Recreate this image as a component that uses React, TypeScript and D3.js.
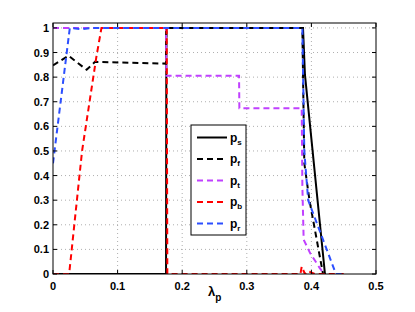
import React from "react";
import * as d3 from "d3";

// series: [lambda_p, value]
const psData: [number, number][] = [
  [0, 0], [0.175, 0], [0.1755, 1], [0.387, 1], [0.39, 0.81], [0.421, 0],
];
const pfData: [number, number][] = [
  [0, 0.848], [0.024, 0.887], [0.052, 0.83], [0.065, 0.862], [0.175, 0.855],
  [0.1755, 1], [0.386, 1], [0.389, 0.45], [0.397, 0.3], [0.418, 0],
];
const ptData: [number, number][] = [
  [0, 1], [0.175, 1], [0.1755, 0.806], [0.288, 0.806], [0.2885, 0.674],
  [0.385, 0.674], [0.386, 0.36], [0.388, 0.14], [0.398, 0.085], [0.413, 0.024], [0.42, 0],
];
const pbData: [number, number][] = [
  [0, 0], [0.025, 0], [0.045, 0.5], [0.067, 0.88], [0.075, 1], [0.176, 1],
  [0.177, 0], [0.383, 0], [0.385, 0.03], [0.39, 0], [0.395, 0.012], [0.405, 0], [0.45, 0],
];
const prData: [number, number][] = [
  [0, 0.45], [0.026, 1], [0.045, 0.995], [0.06, 1], [0.386, 1], [0.389, 0.5],
  [0.395, 0.3], [0.438, 0], [0.45, 0],
];

const xTicks = [0, 0.1, 0.2, 0.3, 0.4, 0.5];
const yTicks = [0, 0.1, 0.2, 0.3, 0.4, 0.5, 0.6, 0.7, 0.8, 0.9, 1];

const series = [
  { name: "s", data: psData, color: "#000000", dash: "" },
  { name: "f", data: pfData, color: "#000000", dash: "6,4" },
  { name: "t", data: ptData, color: "#c040ff", dash: "6,4" },
  { name: "b", data: pbData, color: "#ff0000", dash: "6,4" },
  { name: "r", data: prData, color: "#2c4fff", dash: "6,4" },
];

export default function App() {
  const width = 415;
  const height = 312;
  const m = { left: 53, right: 39, top: 23, bottom: 38 };

  const x = d3.scaleLinear().domain([0, 0.5]).range([m.left, width - m.right]);
  const y = d3.scaleLinear().domain([0, 1.02]).range([height - m.bottom, m.top]);
  const line = d3.line<[number, number]>().x((d) => x(d[0])).y((d) => y(d[1]));

  const font = "'Liberation Sans', Arial, sans-serif";
  const legX = 191;
  const legY = 125;

  return (
    <svg
      width={width}
      height={height}
      style={{ position: "absolute", left: 0, top: 0, background: "#fff" }}
      fontFamily={font}
    >
      <defs>
        <clipPath id="plot">
          <rect x={m.left} y={m.top} width={x(0.5) - m.left} height={y(0) - m.top} />
        </clipPath>
      </defs>

      {/* grid */}
      {xTicks.slice(1, -1).map((t) => (
        <line key={"gx" + t} x1={x(t)} x2={x(t)} y1={y(0)} y2={m.top}
          stroke="#999" strokeWidth={0.8} strokeDasharray="1,3" />
      ))}
      {yTicks.slice(1).map((t) => (
        <line key={"gy" + t} x1={m.left} x2={x(0.5)} y1={y(t)} y2={y(t)}
          stroke="#999" strokeWidth={0.8} strokeDasharray="1,3" />
      ))}

      {/* series */}
      <g clipPath="url(#plot)">
        {series.map((s) => (
          <path key={s.name} d={line(s.data) || ""} fill="none" stroke={s.color}
            strokeWidth={2} strokeDasharray={s.dash || undefined} />
        ))}
      </g>

      {/* box + ticks */}
      <rect x={m.left} y={m.top} width={x(0.5) - m.left} height={y(0) - m.top}
        fill="none" stroke="#000" strokeWidth={1} />
      {xTicks.map((t) => (
        <g key={"tx" + t}>
          <line x1={x(t)} x2={x(t)} y1={y(0)} y2={y(0) - 4} stroke="#000" />
          <line x1={x(t)} x2={x(t)} y1={m.top} y2={m.top + 4} stroke="#000" />
          <text x={x(t)} y={y(0) + 16} textAnchor="middle" fontSize={11} fontWeight="bold">
            {t === 0 ? "0" : d3.format(".1f")(t)}
          </text>
        </g>
      ))}
      {yTicks.map((t) => (
        <g key={"ty" + t}>
          <line x1={m.left} x2={m.left + 4} y1={y(t)} y2={y(t)} stroke="#000" />
          <line x1={x(0.5)} x2={x(0.5) - 4} y1={y(t)} y2={y(t)} stroke="#000" />
          <text x={m.left - 4} y={y(t) + 4} textAnchor="end" fontSize={11} fontWeight="bold">
            {t === 0 || t === 1 ? String(t) : d3.format(".1f")(t)}
          </text>
        </g>
      ))}

      {/* x label */}
      <text x={208} y={296} fontSize={13} fontWeight="bold">
        λ<tspan fontSize={10} dy={5}>p</tspan>
      </text>

      {/* legend */}
      <rect x={legX} y={legY} width={55} height={110} fill="#fff" stroke="#000" strokeWidth={1} />
      {series.map((s, i) => {
        const cy = legY + 12.5 + i * 21.5;
        return (
          <g key={"lg" + s.name}>
            <line x1={legX + 6} x2={legX + 36} y1={cy} y2={cy} stroke={s.color}
              strokeWidth={2} strokeDasharray={s.dash || undefined} />
            <text x={legX + 39} y={cy + 4} fontSize={12} fontWeight="bold">
              p<tspan fontSize={8} dy={3}>{s.name}</tspan>
            </text>
          </g>
        );
      })}
    </svg>
  );
}
